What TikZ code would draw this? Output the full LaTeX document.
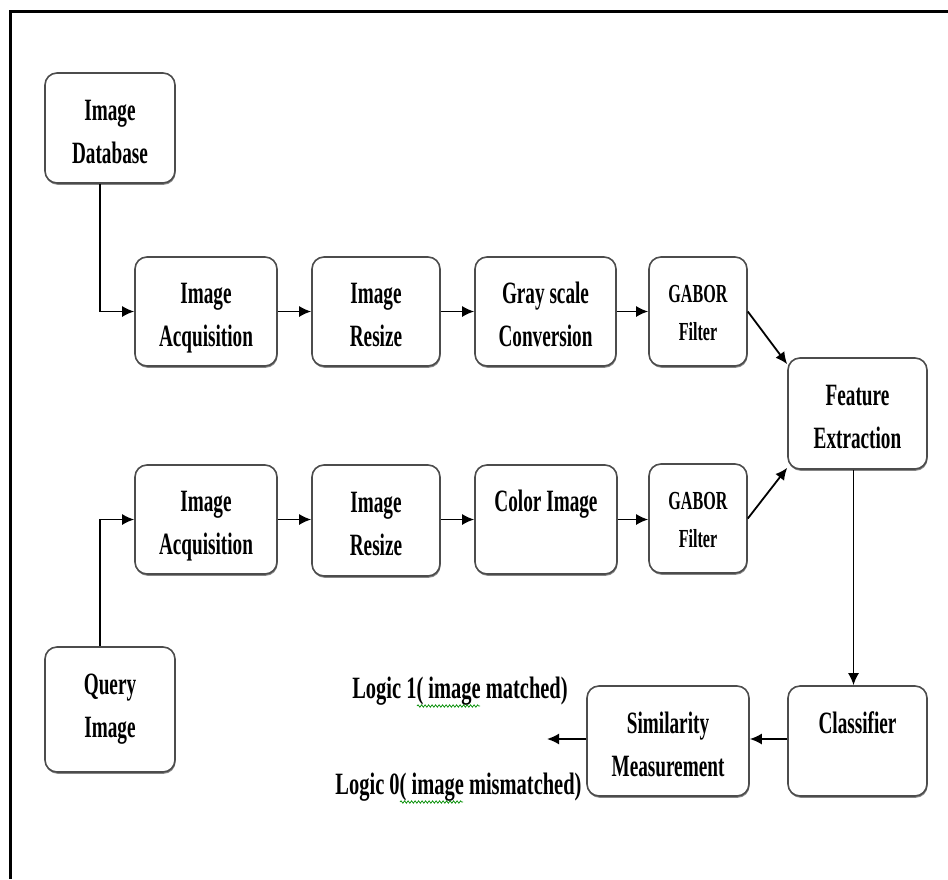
\documentclass[tikz,border=0pt]{standalone}
\usepackage{fontspec}
\setmainfont{Liberation Serif}[FakeStretch=0.62]
\newfontfamily\lblfont{Liberation Serif}[FakeStretch=0.66]
\usetikzlibrary{arrows.meta,shadows,decorations.pathmorphing,calc}
\newcommand{\twoline}[4]{\rule{0pt}{#3}#1\\#2\rule[-#4]{0pt}{#4}}
\newcommand{\tl}[2]{\twoline{#1}{#2}{35pt}{8pt}}
\newcommand{\tls}[2]{\twoline{#1}{#2}{27pt}{8pt}}
\begin{document}
\begin{tikzpicture}[x=1pt,y=-1pt,
  box/.style={draw=black!70, line width=1.6pt, rounded corners=12pt, fill=white,
    align=center, inner sep=0pt, font=\fontsize{31}{43}\selectfont\bfseries,
    drop shadow={shadow xshift=0.6pt, shadow yshift=-1.8pt, fill=black!60, opacity=0.8}},
  smallbox/.style={box, font=\fontsize{26}{38}\selectfont\bfseries},
  arr/.style={line width=1.8pt, -{Latex[length=12pt,width=11pt]}},
  lbl/.style={font=\lblfont\fontsize{31}{43}\selectfont\bfseries, inner sep=0pt, anchor=base},
  squig/.style={draw=green!55!black, line width=0.7pt,
    decorate, decoration={snake, amplitude=1.2pt, segment length=3.5pt}},
  frameline/.style={line width=3pt, black}]
\useasboundingbox (0,0) rectangle (948,879);
\draw[frameline] (948,11) -- (10,11) -- (10,879);

% boxes
\node[box, minimum width=130pt, minimum height=110pt] (db) at (110,128) {\tl{Image}{Database}};
\node[box, minimum width=130pt, minimum height=125pt] (qi) at (110,709.5) {\twoline{Query}{Image}{24pt}{12pt}};
\node[box, minimum width=142pt, minimum height=109pt] (acqa) at (206,311.5) {\tl{Image}{Acquisition}};
\node[box, minimum width=128pt, minimum height=109pt] (rsa) at (376,311.5) {\tl{Image}{Resize}};
\node[box, minimum width=141pt, minimum height=109pt] (gs) at (545.5,311.5) {\tl{Gray scale}{Conversion}};
\node[smallbox, minimum width=98pt, minimum height=109pt] (gba) at (698,311.5) {\tls{GABOR}{Filter}};
\node[box, minimum width=139pt, minimum height=111pt] (fe) at (857.5,413.5) {\tl{Feature}{Extraction}};
\node[box, minimum width=142pt, minimum height=109pt] (acqb) at (206,519.5) {\tl{Image}{Acquisition}};
\node[box, minimum width=128pt, minimum height=111pt] (rsb) at (376,520.5) {\tl{Image}{Resize}};
\node[box, minimum width=142pt, minimum height=109pt] (ci) at (546,519.5) {\tl{Color Image}{}};
\node[smallbox, minimum width=98pt, minimum height=109pt] (gbb) at (698,518.5) {\tls{GABOR}{Filter}};
\node[box, minimum width=139pt, minimum height=110pt] (cl) at (857.5,741) {\tl{Classifier}{}};
\node[box, minimum width=162pt, minimum height=110pt] (sm) at (668,741) {\tl{Similarity}{Measurement}};

% labels
\node[lbl] (l1) at (460,698) {Logic 1( image matched)};
\node[lbl] (l0) at (458.5,794) {Logic 0( image mismatched)};
\draw[squig] (417,706) -- (480,706);
\draw[squig] (400,802) -- (463,802);
\coordinate (out) at (547,739);

% connectors
\draw[arr] ([xshift=-10pt]db.south) |- (acqa.west);
\draw[arr] ([xshift=-10pt]qi.north) |- (acqb.west);
\draw[arr] (acqa) -- (rsa);
\draw[arr] (rsa) -- (gs);
\draw[arr] (gs) -- (gba);
\draw[arr] (acqb) -- (rsb.west |- acqb);
\draw[arr] (rsb.east |- acqb) -- (ci);
\draw[arr] (ci) -- (gbb.west |- ci);
\draw[arr] (gba.east) -- ([yshift=-7pt]fe.north west);
\draw[arr] (gbb.east) -- ([yshift=2pt]fe.south west);
\draw[arr] ([xshift=-4pt]fe.south) -- ([xshift=-4pt]cl.north);
\draw[arr] ([yshift=2pt]cl.west) -- ([yshift=2pt]sm.east);
\draw[arr] ([yshift=2pt]sm.west) -- (out);
\end{tikzpicture}
\end{document}
